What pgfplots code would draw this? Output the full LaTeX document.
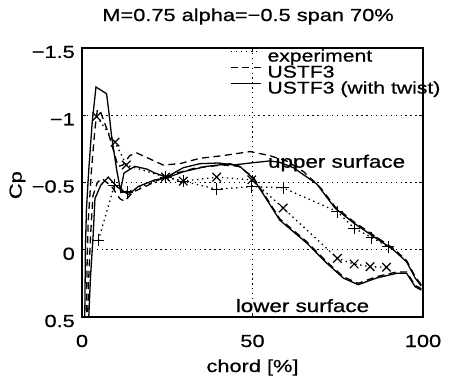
\documentclass[border=0pt]{standalone}
\usepackage{fontspec}
\setmainfont{Liberation Sans}[FakeStretch=1.25, FakeBold=0.7]
\usepackage{pgfplots}
\pgfplotsset{compat=1.18}

\tikzset{
  expdot/.style={dash pattern=on 1.4bp off 3.6bp, line width=1.3bp},
  cfddash/.style={dash pattern=on 7bp off 4.5bp, line width=1.3bp},
  cfdsolid/.style={solid, line width=1.3bp},
}

\begin{document}
\begin{tikzpicture}
\path[use as bounding box] (-82bp,-66bp) rectangle (369bp,317bp);
\begin{axis}[
  at={(0,0)}, anchor=south west,
  scale only axis, width=341bp, height=269bp,
  xmin=0, xmax=100, ymin=-1.5, ymax=0.5, y dir=reverse,
  xtick={0,50,100}, xticklabels={0,50,100},
  ytick={-1.5,-1,-0.5,0,0.5},
  yticklabels={−1.5,−1,−0.5,0,0.5},
  grid=major,
  major grid style={dash pattern=on 1.3bp off 3.6bp, line width=1.1bp, black},
  tick align=inside, tick pos=both, major tick length=4bp,
  tick style={black, line width=0.9bp},
  axis line style={line width=1.3bp},
  tick label style={font=\fontsize{17.5}{20}\selectfont},
  xticklabel style={anchor=base, yshift=-30bp, inner sep=0pt},
  yticklabel style={anchor=east, xshift=-7bp, yshift=-4bp, inner sep=0pt},
  title={M=0.75 alpha=−0.5 span 70\%},
  title style={font=\fontsize{17.5}{20}\selectfont, at={(axis description cs:0.487,1)}, anchor=base, yshift=21bp, inner sep=0pt},
  xlabel={chord [\%]},
  xlabel style={font=\fontsize{17.5}{20}\selectfont, at={(axis description cs:0.5,0)}, anchor=base, yshift=-55bp, inner sep=0pt},
  ylabel={Cp},
  ylabel style={font=\fontsize{17.5}{20}\selectfont, at={(axis description cs:-0.177,0.49)}, anchor=base, inner sep=0pt},
  legend style={draw=none, fill=none, at={(axis description cs:0.434,0.995)}, anchor=north west,
    font=\fontsize{17}{19}\selectfont, row sep=0pt, inner sep=0pt,
    nodes={inner sep=0pt, text height=12bp, text depth=4bp}},
  legend cell align=left,
  legend image code/.code={\draw[#1] (0bp,6bp) -- (30bp,6bp);},
  every axis legend/.append style={column sep=6bp},
  clip=true,
]
\addlegendimage{expdot}
\addlegendentry{experiment}
\addlegendimage{cfddash}
\addlegendentry{USTF3}
\addlegendimage{cfdsolid}
\addlegendentry{USTF3 (with twist)}

% USTF3 with twist, suction side
\addplot[cfdsolid, forget plot] coordinates {
(0.8,0.55) (1.0,0.0) (1.3,-0.3) (2.0,-0.6) (3.0,-0.95) (4.1,-1.21)
(7.2,-1.16) (8.0,-1.0) (8.7,-0.84) (10.2,-0.59) (11.3,-0.44) (12.3,-0.57)
(15.5,-0.62) (19,-0.60) (21.4,-0.57) (24.8,-0.54) (29.7,-0.61) (34.6,-0.64)
(40,-0.645) (44.4,-0.63) (49.3,-0.645) (55,-0.66) (58,-0.65) (62,-0.61)
(68.8,-0.49) (74.2,-0.31) (79.6,-0.2) (85.4,-0.1) (91.3,0.0) (95.2,0.09)
(97.7,0.21) (99.5,0.27)};
% USTF3 with twist, pressure side
\addplot[cfdsolid, forget plot] coordinates {
(1.9,0.55) (2.5,0.2) (3.3,-0.12) (3.8,-0.38) (5.5,-0.48) (7.7,-0.54)
(10.2,-0.47) (13.6,-0.41) (16.5,-0.47) (21.4,-0.52) (24.3,-0.53) (29.7,-0.58)
(36.5,-0.62) (43.4,-0.64) (46.3,-0.62) (50.2,-0.53) (54,-0.38) (58,-0.22)
(65.9,-0.05) (71.8,0.10) (76.6,0.21) (81,0.26) (86.4,0.21) (92.3,0.175)
(95.2,0.175) (97.7,0.275) (99.5,0.3)};

% USTF3, suction side
\addplot[cfddash, forget plot] coordinates {
(1.3,0.55) (1.5,0.1) (1.8,-0.2) (2.8,-0.6) (3.8,-0.9) (4.5,-1.04) (5.5,-1.02)
(7.7,-0.87) (9.2,-0.74) (10.6,-0.62) (12,-0.63) (14,-0.70) (16,-0.72)
(19.5,-0.68) (23.8,-0.63) (28.7,-0.64) (34.6,-0.68) (41.4,-0.70) (49.3,-0.73)
(55,-0.70) (60,-0.66) (65,-0.58) (70,-0.46) (74.2,-0.32) (79.6,-0.21)
(85.4,-0.11) (91.3,-0.01) (95.2,0.08) (97.7,0.2) (99.5,0.26)};
% USTF3, pressure side
\addplot[cfddash, forget plot] coordinates {
(1.6,0.55) (2.0,0.2) (2.5,-0.1) (3.2,-0.4) (4.5,-0.5) (5.8,-0.53) (8.7,-0.47)
(11.1,-0.38) (12.5,-0.36) (15,-0.43) (19.4,-0.48) (22.4,-0.52) (27.7,-0.57)
(33.6,-0.61) (41.4,-0.63) (46,-0.62) (50.2,-0.54) (54,-0.39) (58,-0.23)
(65.9,-0.06) (71.8,0.09) (76.6,0.2) (81,0.25) (86.4,0.2) (92.3,0.165)
(95.2,0.165) (97.7,0.265) (99.5,0.29)};

% experiment
\addplot[expdot, mark=x, mark size=6bp, mark options={solid, line width=1.2bp}, forget plot] coordinates {
(4.3,-0.99) (9.7,-0.80) (13,-0.63) (24.5,-0.54) (29.7,-0.51) (39.5,-0.54)
(49.8,-0.52) (59,-0.31) (74.9,0.064) (79.8,0.106) (84.5,0.126) (89.3,0.13)};
\addplot[expdot, mark=+, mark size=6bp, mark options={solid, line width=1.2bp}, forget plot] coordinates {
(4.8,-0.07) (9.5,-0.48) (13.3,-0.43) (24.5,-0.54) (29.7,-0.51) (39.5,-0.45)
(49.8,-0.47) (59,-0.46) (74.9,-0.283) (79.8,-0.16) (85,-0.09) (89.8,-0.023)};

\node[anchor=base west, inner sep=0pt, font=\fontsize{18}{20}\selectfont] at (axis cs:54.5,-0.61) {upper surface};
\node[anchor=base west, inner sep=0.5bp, fill=white, font=\fontsize{18}{20}\selectfont] at (axis cs:44.9,0.463) {lower surface};
\end{axis}
\end{tikzpicture}
\end{document}
